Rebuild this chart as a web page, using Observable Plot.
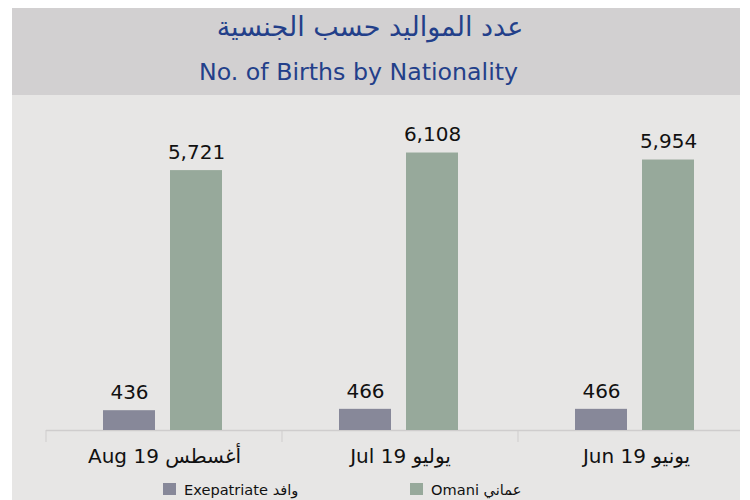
<!DOCTYPE html>
<html>
<head>
<meta charset="utf-8">
<script src="https://cdn.jsdelivr.net/npm/d3@7"></script>
<script src="https://cdn.jsdelivr.net/npm/@observablehq/plot@0.6"></script>
<style>
  html, body { margin: 0; padding: 0; background: #ffffff; }
  #panel { position: absolute; left: 12px; top: 8px; width: 728px; height: 492px; background: #e7e6e5; overflow: hidden; }
  #header { position: absolute; left: 0; top: 0; width: 728px; height: 87px; background: #d2d0d1; }
  .title { position: absolute; left: 0; text-align: center; color: #233f8a; font-family: "DejaVu Sans", sans-serif; white-space: nowrap; }
  #chart { position: absolute; left: 0; top: 87px; }
  #chart svg { max-width: none; }
  #legend { position: absolute; top: 471px; left: 0; width: 728px; height: 20px; font-family: "DejaVu Sans", sans-serif; font-size: 14.6px; color: #111; }
  .sw { position: absolute; top: 0; height: 20px; display: flex; align-items: center; white-space: nowrap; }
  .sw i { display: inline-block; width: 13px; height: 12px; margin-right: 8px; }
</style>
</head>
<body>
<div id="panel">
  <div id="header">
    <div class="title" style="top:2px; width:716px; font-size:27px; line-height:34px;">عدد المواليد حسب الجنسية</div>
    <div class="title" style="top:49px; width:693px; font-size:23.7px; line-height:30px;">No. of Births by Nationality</div>
  </div>
  <div id="chart"></div>
  <div id="legend"></div>
</div>
<script>
// Data
const months = ["Aug 19 أغسطس", "Jul 19 يوليو", "Jun 19 يونيو"];
const series = ["Expatriate", "Omani"];
const seriesLabels = ["Exepatriate وافد", "Omani عماني"];
const expatriate = [436, 466, 466];
const omani = [5721, 6108, 5954];
const colors = ["#878899", "#97a99b"];

const rows = [];
months.forEach((m, i) => {
  rows.push({month: m, nat: series[0], value: expatriate[i]});
  rows.push({month: m, nat: series[1], value: omani[i]});
});

const plot = Plot.plot({
  width: 742,
  height: 380,
  marginLeft: 34,
  marginRight: 0,
  marginTop: 17,
  marginBottom: 45,
  style: {background: "transparent", fontFamily: "DejaVu Sans, sans-serif", maxWidth: "none"},
  fx: {domain: months, padding: 0, axis: "bottom", tickSize: 0, tickPadding: 18, label: null},
  x: {domain: series, axis: null, paddingInner: 0.22, paddingOuter: 0.85, align: 0.49},
  y: {domain: [0, 7000], axis: null},
  color: {domain: series, range: colors},
  facet: {data: rows, x: "month", label: null},
  marks: [
    Plot.ruleY([0], {stroke: "#cfcdcd", strokeWidth: 1.5}),
    Plot.barY(rows, {x: "nat", y: "value", fill: "nat"}),
    Plot.text(rows, {x: "nat", y: "value", text: d => d3.format(",")(d.value), dy: -18, fontSize: 20, fill: "#111", fontFamily: "DejaVu Sans, sans-serif"})
  ]
});
document.getElementById("chart").appendChild(plot);

// style fx axis labels
d3.select(plot).selectAll("g[aria-label^='fx-axis'] text").style("font-size", "20px").attr("fill", "#111");

// boundary ticks between month groups, from the fx scale
const fx = plot.scale("fx");
const bw = fx.bandwidth !== undefined ? fx.bandwidth : (fx.range[1] - fx.range[0]) / months.length;
const step = fx.step !== undefined ? fx.step : bw;
const yb = plot.scale("y");
const baseY = yb.range[0];
const tg = d3.select(plot).append("g").attr("stroke", "#cfcdcd").attr("stroke-width", 1);
months.forEach((m, i) => {
  const x0 = fx.range[0] + i * step;
  tg.append("line").attr("x1", x0).attr("x2", x0).attr("y1", baseY).attr("y2", baseY + 12);
});

// legend
const lg = document.getElementById("legend");
const legendLeft = [151, 398];
series.forEach((s, i) => {
  const d = document.createElement("div");
  d.className = "sw";
  d.style.left = legendLeft[i] + "px";
  d.innerHTML = `<i style="background:${colors[i]}"></i><span>${seriesLabels[i]}</span>`;
  lg.appendChild(d);
});
</script>
</body>
</html>
